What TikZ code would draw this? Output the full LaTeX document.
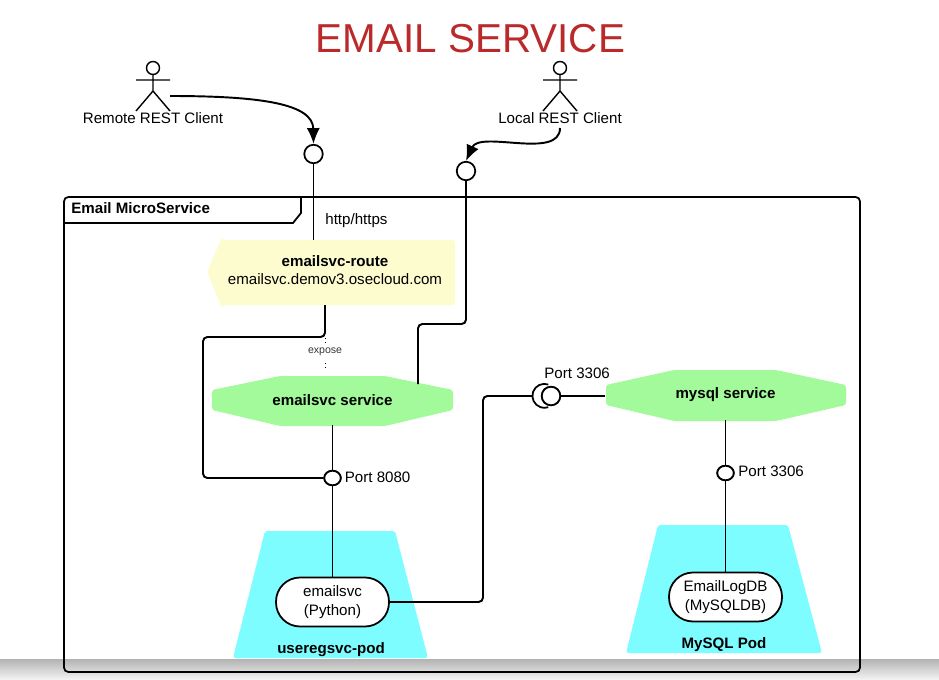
\documentclass[tikz,border=0pt]{standalone}
\usepackage{fontspec}
\setmainfont{Liberation Sans}
\usetikzlibrary{shapes.geometric, arrows.meta, positioning}
\definecolor{svcgreen}{HTML}{A3FA9B}
\definecolor{podcyan}{HTML}{7DFDFF}
\definecolor{routeyellow}{HTML}{FCFCCF}
\definecolor{titlered}{HTML}{BA2A2A}

\begin{document}
\begin{tikzpicture}[
    x=0.02cm, y=-0.02cm,
    wire/.style={black, line width=1.1pt, rounded corners=2.5pt},
    pill/.style={rectangle, rounded corners=0.48cm, draw=black, line width=1pt, fill=white, minimum width=2.26cm, minimum height=0.98cm, align=center, inner sep=0pt, font=\fontsize{8.6}{10.5}\selectfont},
    port/.style={ellipse, draw=black, line width=1pt, fill=white, minimum width=0.33cm, minimum height=0.29cm, inner sep=0pt},
    lollipop/.style={circle, draw=black, line width=1pt, fill=white, minimum size=0.37cm, inner sep=0pt},
    svclabel/.style={minimum width=4.8cm, minimum height=1cm, inner sep=0pt, font=\bfseries\fontsize{8.6}{10.5}\selectfont},
    lbl/.style={inner sep=0pt, font=\fontsize{8.6}{10.5}\selectfont},
    headlbl/.style={inner sep=0pt, align=center, font=\fontsize{8.6}{10.5}\selectfont}
]
    \useasboundingbox (0,0) rectangle (939,679);

    % Page edge at the bottom
    \shade[top color=black!30, bottom color=black!5] (0,659) rectangle (939,679);

    % Title
    \node[inner sep=0pt, text=titlered, font=\fontsize{23}{28}\selectfont] (title) at (470.5,39) {EMAIL SERVICE};

    % Frame
    \draw[black, line width=1pt, rounded corners=2.5pt] (64,197) rectangle (860,672);
    \draw[black, line width=1pt] (64,223) -- (293,223) -- (301,213) -- (301,197);
    \node[lbl, font=\bfseries\fontsize{8.6}{10.5}\selectfont, anchor=west] (frametitle) at (71,208) {Email MicroService};

    % Shapes behind the nodes
    \fill[routeyellow, rounded corners=1.5pt] (207,272) -- (222,237) -- (222,240) -- (455,240) -- (455,305) -- (222,305) -- (222,308) -- cycle;
    \fill[svcgreen, rounded corners=1.5pt] (212,390) -- (280,376) -- (385,376) -- (453,390) -- (453,410) -- (385,426) -- (280,426) -- (212,410) -- cycle;
    \fill[svcgreen, rounded corners=1.5pt] (606,385) -- (674,370) -- (776,370) -- (846,385) -- (846,405) -- (776,421) -- (674,421) -- (606,405) -- cycle;
    \fill[podcyan, rounded corners=1.5pt] (265,531) -- (395,531) -- (428,658) -- (233,658) -- cycle;
    \fill[podcyan, rounded corners=1.5pt] (658,525) -- (788,525) -- (822,653) -- (626,653) -- cycle;

    % Route and services
    \node[headlbl, minimum width=4.66cm, minimum height=1.3cm] (route) at (335,270) {\textbf{emailsvc-route}\\emailsvc.demov3.osecloud.com};
    \node[svclabel] (emailsvc) at (332.5,400) {emailsvc service};
    \node[svclabel] (mysql) at (725.5,395) {mysql service};

    % Pods
    \node[pill] (python) at (332.5,602) {emailsvc\\(Python)};
    \node[pill] (maria) at (725.5,597) {EmailLogDB\\(MySQLDB)};
    \node[lbl, font=\bfseries\fontsize{8.6}{10.5}\selectfont] (podone) at (331,650) {useregsvc-pod};
    \node[lbl, font=\bfseries\fontsize{8.6}{10.5}\selectfont] (podtwo) at (724,645) {MySQL Pod};

    % Ports
    \node[port] (port8080) at (332.5,478) {};
    \node[port] (port3306) at (725.5,473) {};
    \node[lollipop] (remoteport) at (313.5,154) {};
    \node[lollipop] (localport) at (466,171) {};
    \node[lollipop] (socket) at (551,396) {};
    \coordinate (sockend) at (533,396);
    \coordinate (routeout) at (325,305);
    \coordinate (routein) at (313.5,240);
    \coordinate (localup) at (418,384);
    \coordinate (remotestart) at (170,96);
    \coordinate (localstart) at (560,128);

    % Actors
    \draw[black, line width=0.8pt] (153,68) circle (6.5);
    \draw[black, line width=0.8pt] (153,74.5) -- (153,91) (136,80) -- (170,80) (136,111) -- (153,91) -- (170,111);
    \draw[black, line width=0.8pt] (560,68) circle (6.5);
    \draw[black, line width=0.8pt] (560,74.5) -- (560,91) (543,80) -- (577,80) (543,111) -- (560,91) -- (577,111);
    \node[lbl] (remote) at (153,118) {Remote REST Client};
    \node[lbl] (local) at (560,118) {Local REST Client};

    % Arrows
    \draw[wire, -{Latex[length=9pt,width=7.5pt]}] (remotestart) .. controls (262,96) and (313,104) .. (remoteport.north);
    \draw[wire, -{Latex[length=9pt,width=7.5pt]}] (localstart) .. controls (560,160) and (480,130) .. (localport.north);

    % Wires
    \draw[wire] (remoteport) -- (routein);
    \draw[wire] (localport) -- (466,324) -- (418,324) -- (localup);
    \draw[wire] (routeout) -- (325,337) -- (203,337) -- (203,478) -- (port8080);
    \draw[wire] (emailsvc.south) -- (port8080) -- (python);
    \draw[wire] (python) -- (483,602) -- (483,396) -- (sockend);
    \draw[wire] (socket) -- (socket -| mysql.west);
    \draw[wire] (mysql.south) -- (port3306) -- (maria);
    \node[port] at (port8080) {};
    \node[port] at (port3306) {};
    \draw[black, line width=1pt] (548.3,384.5) arc[start angle=71, end angle=289, radius=0.24cm];
    \node[lollipop] at (socket) {};

    % Labels
    \node[lbl, anchor=west] (httplbl) at (325,221) {http/https};
    \node[lbl, anchor=west] (lbl8080) at (344.5,477) {Port 8080};
    \node[lbl, anchor=west] (lblsock) at (544,373) {Port 3306};
    \node[lbl, anchor=west] (lbl3306) at (738,471) {Port 3306};
    \node[inner sep=0pt, text=black!80, font=\fontsize{6}{7}\selectfont] (expose) at (325,352) {expose};
    \draw[black, line width=0.5pt, dotted] (325,338) -- (325,345);
    \draw[black, line width=0.5pt, dotted] (325,363) -- (325,371);
\end{tikzpicture}
\end{document}
